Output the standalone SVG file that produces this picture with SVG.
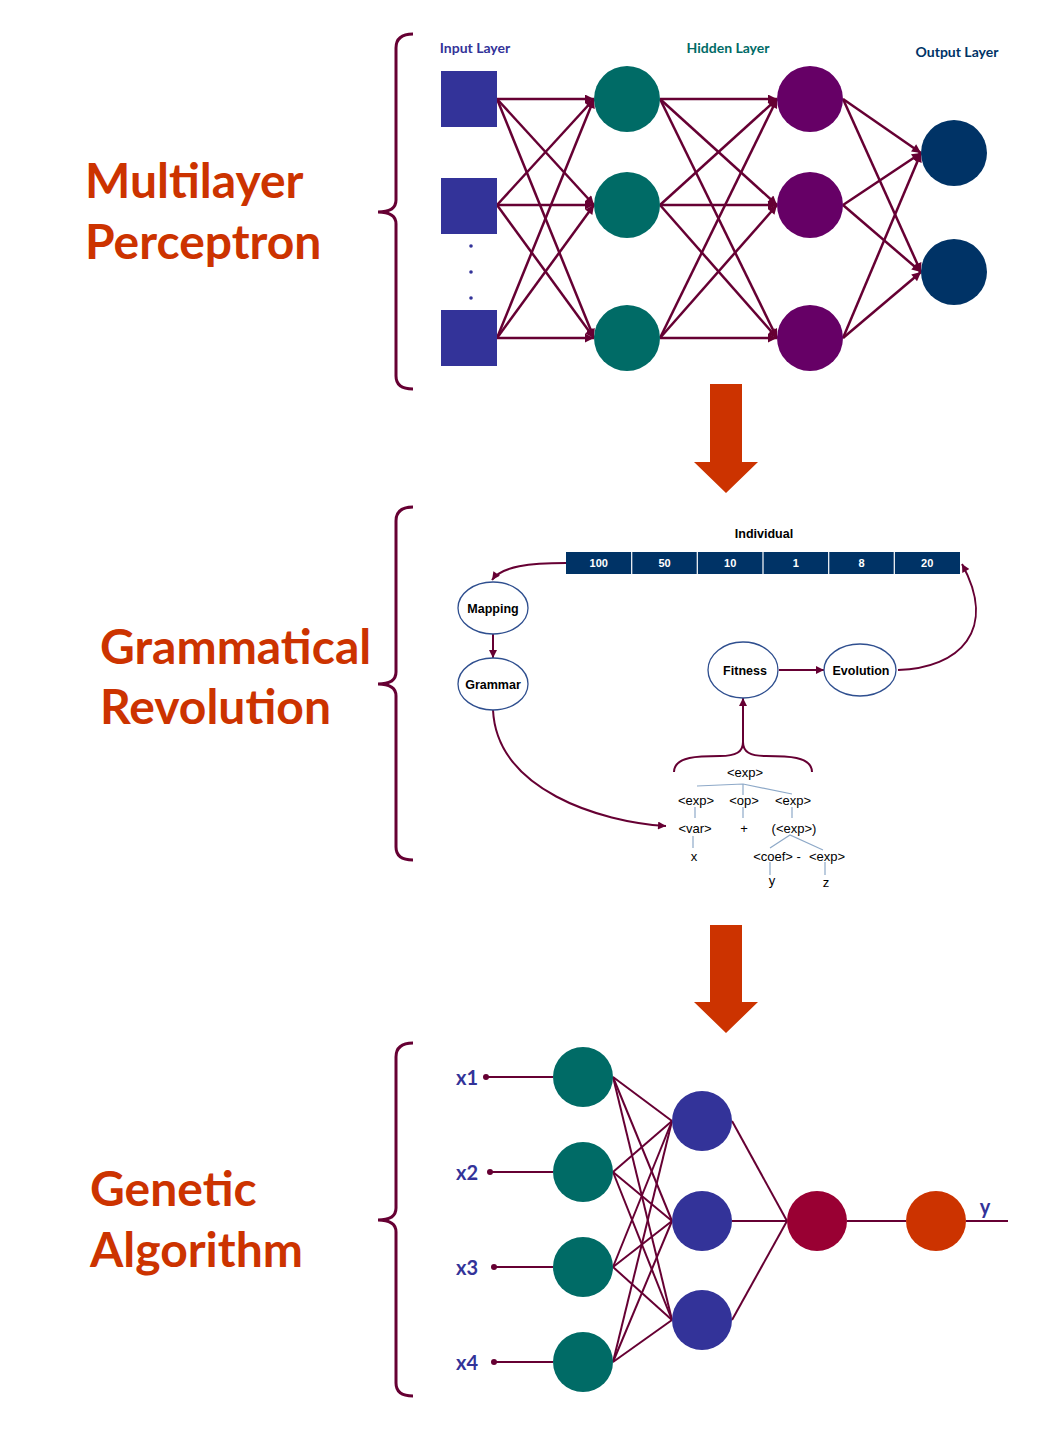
<svg xmlns="http://www.w3.org/2000/svg" width="1058" height="1430" viewBox="0 0 1058 1430">
<style>
.title{font-family:"Lato","Liberation Sans",sans-serif;font-weight:bold;font-size:48px;fill:#CC3300}
.brace{fill:none;stroke:#660033;stroke-width:3}
.conn{stroke:#660033;stroke-width:2.5;fill:none}
.conn2{stroke:#660033;stroke-width:2;fill:none}
.lbl{font-family:"Lato","Liberation Sans",sans-serif;font-weight:bold;font-size:14px}
.ell{fill:#fff;stroke:#2F4F8F;stroke-width:1.3}
.et{font-family:"Liberation Sans",sans-serif;font-weight:bold;font-size:12.5px;fill:#000;text-anchor:middle}
.cell{font-family:"Liberation Sans",sans-serif;font-weight:bold;font-size:11px;fill:#fff;text-anchor:middle}
.tr{font-family:"Liberation Sans",sans-serif;font-size:13px;fill:#000;text-anchor:middle}
.tl{stroke:#8EA9C8;stroke-width:1.2;fill:none}
.xl{font-family:"Lato","Liberation Sans",sans-serif;font-weight:bold;font-size:20px;fill:#333399}
.big{fill:#CC3300}
</style>
<defs>
<marker id="ah" viewBox="0 0 10 10" refX="10" refY="5" markerWidth="11" markerHeight="9" markerUnits="userSpaceOnUse" orient="auto">
<path d="M0,0 L10,5 L0,10 Z" fill="#660033"/>
</marker>
<marker id="ahs" viewBox="0 0 10 10" refX="10" refY="5" markerWidth="9" markerHeight="8" markerUnits="userSpaceOnUse" orient="auto">
<path d="M0,0 L10,5 L0,10 Z" fill="#660033"/>
</marker>
</defs>
<rect width="1058" height="1430" fill="#fff"/>

<!-- Titles -->
<g id="titles">
<text class="title" x="85" y="198">Multilayer</text>
<text class="title" x="85" y="259">Perceptron</text>
<text class="title" x="100" y="664">Grammatical</text>
<text class="title" x="100" y="724">Revolution</text>
<text class="title" x="90" y="1206">Genetic</text>
<text class="title" x="90" y="1267">Algorithm</text>
</g>

<!-- Braces -->
<g id="braces">
<path class="brace" d="M413,34 Q396,34 396,48 L396,200 Q396,212 378,212 Q396,212 396,224 L396,376 Q396,389 413,389"/>
<path class="brace" d="M413,507 Q396,507 396,521 L396,672 Q396,684 378,684 Q396,684 396,696 L396,847 Q396,860 413,860"/>
<path class="brace" d="M413,1043 Q396,1043 396,1057 L396,1208 Q396,1220 378,1220 Q396,1220 396,1232 L396,1383 Q396,1396 413,1396"/>
</g>

<!-- Big arrows -->
<g id="bigarrows">
<path class="big" d="M710,384 L742,384 L742,462 L758,462 L726,493 L694,462 L710,462 Z"/>
<path class="big" d="M710,925 L742,925 L742,1002 L758,1002 L726,1033 L694,1002 L710,1002 Z"/>
</g>

<!-- MLP labels -->
<g id="mlp-labels">
<text class="lbl" x="475" y="53" text-anchor="middle" fill="#333399">Input Layer</text>
<text class="lbl" x="728" y="53" text-anchor="middle" fill="#006B66">Hidden Layer</text>
<text class="lbl" x="957" y="57" text-anchor="middle" fill="#003366">Output Layer</text>
</g>

<!-- MLP connectors -->
<g id="mlp-connectors">
<line class="conn" marker-end="url(#ah)" x1="497" y1="99" x2="594" y2="99"/>
<line class="conn" marker-end="url(#ah)" x1="497" y1="99" x2="594" y2="205"/>
<line class="conn" marker-end="url(#ah)" x1="497" y1="99" x2="594" y2="338"/>
<line class="conn" marker-end="url(#ah)" x1="497" y1="205" x2="594" y2="99"/>
<line class="conn" marker-end="url(#ah)" x1="497" y1="205" x2="594" y2="205"/>
<line class="conn" marker-end="url(#ah)" x1="497" y1="205" x2="594" y2="338"/>
<line class="conn" marker-end="url(#ah)" x1="497" y1="338" x2="594" y2="99"/>
<line class="conn" marker-end="url(#ah)" x1="497" y1="338" x2="594" y2="205"/>
<line class="conn" marker-end="url(#ah)" x1="497" y1="338" x2="594" y2="338"/>
<line class="conn" marker-end="url(#ah)" x1="660" y1="99" x2="777" y2="99"/>
<line class="conn" marker-end="url(#ah)" x1="660" y1="99" x2="777" y2="205"/>
<line class="conn" marker-end="url(#ah)" x1="660" y1="99" x2="777" y2="338"/>
<line class="conn" marker-end="url(#ah)" x1="660" y1="205" x2="777" y2="99"/>
<line class="conn" marker-end="url(#ah)" x1="660" y1="205" x2="777" y2="205"/>
<line class="conn" marker-end="url(#ah)" x1="660" y1="205" x2="777" y2="338"/>
<line class="conn" marker-end="url(#ah)" x1="660" y1="338" x2="777" y2="99"/>
<line class="conn" marker-end="url(#ah)" x1="660" y1="338" x2="777" y2="205"/>
<line class="conn" marker-end="url(#ah)" x1="660" y1="338" x2="777" y2="338"/>
<line class="conn" marker-end="url(#ah)" x1="843" y1="99" x2="921" y2="153"/>
<line class="conn" marker-end="url(#ah)" x1="843" y1="99" x2="921" y2="272"/>
<line class="conn" marker-end="url(#ah)" x1="843" y1="205" x2="921" y2="153"/>
<line class="conn" marker-end="url(#ah)" x1="843" y1="205" x2="921" y2="272"/>
<line class="conn" marker-end="url(#ah)" x1="843" y1="338" x2="921" y2="153"/>
<line class="conn" marker-end="url(#ah)" x1="843" y1="338" x2="921" y2="272"/>
</g>

<!-- MLP nodes -->
<g id="in1"><rect x="441" y="71" width="56" height="56" fill="#333399"/></g>
<g id="in2"><rect x="441" y="178" width="56" height="56" fill="#333399"/></g>
<g id="in3"><rect x="441" y="310" width="56" height="56" fill="#333399"/></g>
<g id="dots" fill="#333399"><circle cx="471" cy="246" r="1.8"/><circle cx="471" cy="272" r="1.8"/><circle cx="471" cy="298" r="1.8"/></g>
<g id="h1a"><circle cx="627" cy="99" r="33" fill="#006B66"/></g>
<g id="h1b"><circle cx="627" cy="205" r="33" fill="#006B66"/></g>
<g id="h1c"><circle cx="627" cy="338" r="33" fill="#006B66"/></g>
<g id="h2a"><circle cx="810" cy="99" r="33" fill="#660066"/></g>
<g id="h2b"><circle cx="810" cy="205" r="33" fill="#660066"/></g>
<g id="h2c"><circle cx="810" cy="338" r="33" fill="#660066"/></g>
<g id="o1"><circle cx="954" cy="153" r="33" fill="#003366"/></g>
<g id="o2"><circle cx="954" cy="272" r="33" fill="#003366"/></g>

<!-- GE section -->
<g id="individual">
<text class="et" x="764" y="538" font-size="13">Individual</text>
<rect x="566" y="552" width="394" height="22" fill="#003366"/>
<g stroke="#fff" stroke-width="1.2">
<line x1="631.7" y1="552" x2="631.7" y2="574"/>
<line x1="697.3" y1="552" x2="697.3" y2="574"/>
<line x1="763" y1="552" x2="763" y2="574"/>
<line x1="828.7" y1="552" x2="828.7" y2="574"/>
<line x1="894.3" y1="552" x2="894.3" y2="574"/>
</g>
<text class="cell" x="598.8" y="567">100</text>
<text class="cell" x="664.5" y="567">50</text>
<text class="cell" x="730.2" y="567">10</text>
<text class="cell" x="795.8" y="567">1</text>
<text class="cell" x="861.5" y="567">8</text>
<text class="cell" x="927.2" y="567">20</text>
</g>

<g id="ge-connectors">
<path class="conn2" marker-end="url(#ahs)" d="M566,563 C530,563 502,566 492,580"/>
<line class="conn2" marker-end="url(#ahs)" x1="493" y1="634" x2="493" y2="658"/>
<path class="conn2" marker-end="url(#ahs)" d="M493,710 C497,790 600,822 666,826"/>
<line class="conn2" marker-end="url(#ahs)" x1="779" y1="670" x2="824" y2="670"/>
<path class="conn2" marker-end="url(#ahs)" d="M898,670 C960,668 998,630 962,564"/>
<path class="conn2" d="M674,772 C674,756 700,756 720,756 C736,756 743,752 743,742 C743,752 750,756 766,756 C786,756 812,756 812,772"/>
<line class="conn2" marker-end="url(#ahs)" x1="743" y1="744" x2="743" y2="698"/>
</g>

<g id="mapping"><ellipse class="ell" cx="493" cy="608" rx="35" ry="26"/><text class="et" x="493" y="613">Mapping</text></g>
<g id="grammar"><ellipse class="ell" cx="493" cy="684" rx="35" ry="26"/><text class="et" x="493" y="689">Grammar</text></g>
<g id="fitness"><ellipse class="ell" cx="743" cy="670" rx="35" ry="28"/><text class="et" x="745" y="675">Fitness</text></g>
<g id="evolution"><ellipse class="ell" cx="860" cy="670" rx="36" ry="26"/><text class="et" x="861" y="675">Evolution</text></g>

<g id="tree">
<path class="tl" d="M697,786 L743,784 L792,794"/>
<line class="tl" x1="743" y1="784" x2="743" y2="795"/>
<line class="tl" x1="695" y1="807" x2="695" y2="818"/>
<line class="tl" x1="743" y1="807" x2="743" y2="818"/>
<line class="tl" x1="792" y1="807" x2="792" y2="818"/>
<line class="tl" x1="693" y1="836" x2="693" y2="848"/>
<path class="tl" d="M770,848 L790,835 L823,850"/>
<line class="tl" x1="770" y1="862" x2="770" y2="875"/>
<line class="tl" x1="825" y1="862" x2="825" y2="875"/>
<text class="tr" x="745" y="777">&lt;exp&gt;</text>
<text class="tr" x="696" y="805">&lt;exp&gt;</text>
<text class="tr" x="744" y="805">&lt;op&gt;</text>
<text class="tr" x="793" y="805">&lt;exp&gt;</text>
<text class="tr" x="695" y="833">&lt;var&gt;</text>
<text class="tr" x="744" y="833">+</text>
<text class="tr" x="794" y="833">(&lt;exp&gt;)</text>
<text class="tr" x="694" y="861">x</text>
<text class="tr" x="777" y="861">&lt;coef&gt; -</text>
<text class="tr" x="827" y="861">&lt;exp&gt;</text>
<text class="tr" x="772" y="885">y</text>
<text class="tr" x="826" y="887">z</text>
</g>

<!-- GA section -->
<g id="ga-labels">
<text class="xl" x="467" y="1085" text-anchor="middle">x1</text>
<text class="xl" x="467" y="1180" text-anchor="middle">x2</text>
<text class="xl" x="467" y="1275" text-anchor="middle">x3</text>
<text class="xl" x="467" y="1370" text-anchor="middle">x4</text>
<text class="xl" x="985" y="1214" text-anchor="middle">y</text>
</g>
<g id="ga-connectors" stroke="#660033" stroke-width="2" fill="#660033">
<line x1="486" y1="1077" x2="553" y2="1077"/><circle cx="486" cy="1077" r="3" stroke="none"/>
<line x1="490" y1="1172" x2="553" y2="1172"/><circle cx="490" cy="1172" r="3" stroke="none"/>
<line x1="494" y1="1267" x2="553" y2="1267"/><circle cx="494" cy="1267" r="3" stroke="none"/>
<line x1="494" y1="1362" x2="553" y2="1362"/><circle cx="494" cy="1362" r="3" stroke="none"/>
<line x1="613" y1="1077" x2="672" y2="1121"/>
<line x1="613" y1="1077" x2="672" y2="1221"/>
<line x1="613" y1="1077" x2="672" y2="1320"/>
<line x1="613" y1="1172" x2="672" y2="1121"/>
<line x1="613" y1="1172" x2="672" y2="1221"/>
<line x1="613" y1="1172" x2="672" y2="1320"/>
<line x1="613" y1="1267" x2="672" y2="1121"/>
<line x1="613" y1="1267" x2="672" y2="1221"/>
<line x1="613" y1="1267" x2="672" y2="1320"/>
<line x1="613" y1="1362" x2="672" y2="1121"/>
<line x1="613" y1="1362" x2="672" y2="1221"/>
<line x1="613" y1="1362" x2="672" y2="1320"/>
<line x1="732" y1="1121" x2="787" y2="1221"/>
<line x1="732" y1="1221" x2="787" y2="1221"/>
<line x1="732" y1="1320" x2="787" y2="1221"/>
<line x1="847" y1="1221" x2="906" y2="1221"/>
<line x1="966" y1="1221" x2="1008" y2="1221"/>
</g>
<g id="ga-i1"><circle cx="583" cy="1077" r="30" fill="#006B66"/></g>
<g id="ga-i2"><circle cx="583" cy="1172" r="30" fill="#006B66"/></g>
<g id="ga-i3"><circle cx="583" cy="1267" r="30" fill="#006B66"/></g>
<g id="ga-i4"><circle cx="583" cy="1362" r="30" fill="#006B66"/></g>
<g id="ga-h1"><circle cx="702" cy="1121" r="30" fill="#333399"/></g>
<g id="ga-h2"><circle cx="702" cy="1221" r="30" fill="#333399"/></g>
<g id="ga-h3"><circle cx="702" cy="1320" r="30" fill="#333399"/></g>
<g id="ga-o"><circle cx="817" cy="1221" r="30" fill="#990033"/></g>
<g id="ga-y"><circle cx="936" cy="1221" r="30" fill="#CC3300"/></g>
</svg>
